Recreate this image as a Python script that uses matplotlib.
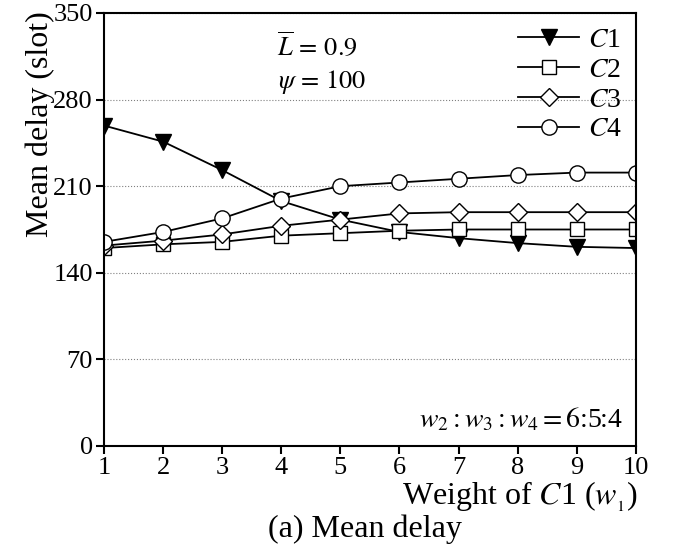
import matplotlib
matplotlib.use("Agg")
import matplotlib.pyplot as plt

plt.rcParams['font.family'] = ['Liberation Serif', 'DejaVu Serif']
plt.rcParams['mathtext.fontset'] = 'stix'

weights = [1, 2, 3, 4, 5, 6, 7, 8, 9, 10]
c1 = [259, 246, 223, 198, 183, 173, 168, 164, 161, 160]
c2 = [160, 163, 165, 170, 172, 174, 175, 175, 175, 175]
c3 = [162, 166, 171, 178, 183, 188, 189, 189, 189, 189]
c4 = [165, 173, 184, 200, 210, 213, 216, 219, 221, 221]
series_labels = [r"$C$1", r"$C$2", r"$C$3", r"$C$4"]
y_ticks = [0, 70, 140, 210, 280, 350]
x_ticks = weights

W, H = 680, 553
fig = plt.figure(figsize=(W / 100, H / 100), dpi=100)
ax = fig.add_axes([0.153, 0.1935, 0.782, 0.783])

styles = [
    dict(marker='v', markerfacecolor='black', markersize=11),
    dict(marker='s', markerfacecolor='white'),
    dict(marker='D', markerfacecolor='white', markersize=9),
    dict(marker='o', markerfacecolor='white', markersize=11),
]
for vals, lab, st in zip([c1, c2, c3, c4], series_labels, styles):
    kw = dict(color='black', linewidth=1.3, markeredgecolor='black',
              markersize=10, markeredgewidth=1.0)
    kw.update(st)
    ax.plot(weights, vals, label=lab, **kw)

ax.set_xlim(1, 10)
ax.set_ylim(0, 350)
ax.set_xticks(x_ticks)
ax.set_yticks(y_ticks)
ax.tick_params(direction='out', length=6, width=1.5, labelsize=19, pad=2)
for s in ax.spines.values():
    s.set_linewidth(1.5)
ax.yaxis.grid(True, linestyle=':', color='gray', linewidth=0.8)
ax.set_axisbelow(True)

ax.set_ylabel("Mean delay (slot)", fontsize=23, va='center')
ax.yaxis.set_label_coords(-0.12, 0.744)
ax.set_xlabel(r"Weight of $C$1 ($w_{_1}$)", fontsize=23, ha='right', va='center')
ax.xaxis.set_label_coords(1.005, -0.118)

ax.text(0.325, 0.925, r"$\overline{L}\,=\,0.9$", transform=ax.transAxes, fontsize=19,
        va='center', ha='left')
ax.text(0.327, 0.84, r"$\psi\,=\,100$", transform=ax.transAxes, fontsize=19,
        va='center', ha='left')
ax.text(0.975, 0.06, r"$w_2 : w_3 : w_4 = 6$:5:4", transform=ax.transAxes,
        fontsize=20, va='center', ha='right')

leg = ax.legend(loc='upper right', bbox_to_anchor=(0.973, 0.967), frameon=False,
                fontsize=20, handlelength=2.2, handletextpad=0.3,
                labelspacing=0.16, borderaxespad=0.0, borderpad=0.0)

fig.text(365 / W, 1 - 529 / H, "(a) Mean delay", fontsize=23, ha='center', va='center')

fig.savefig("out.png", dpi=100)
